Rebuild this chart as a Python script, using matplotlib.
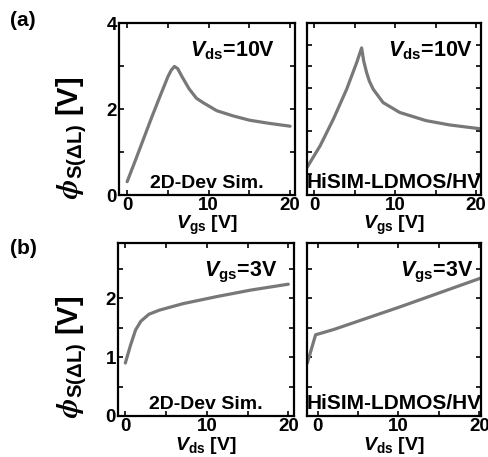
import matplotlib
matplotlib.use("Agg")
import matplotlib.pyplot as plt
from matplotlib.ticker import MultipleLocator

plt.rcParams['font.family'] = ['Liberation Sans', 'DejaVu Sans']
plt.rcParams['font.weight'] = 'bold'
plt.rcParams['mathtext.fontset'] = 'custom'
plt.rcParams['mathtext.rm'] = 'Liberation Sans:bold'
plt.rcParams['mathtext.bf'] = 'Liberation Sans:bold'
plt.rcParams['mathtext.it'] = 'Liberation Sans:italic:bold'
plt.rcParams['mathtext.sf'] = 'Liberation Sans'
plt.rcParams['mathtext.tt'] = 'STIXGeneral:italic'
plt.rcParams['mathtext.fallback'] = 'stix'

# (a) Vds = 10 V, phi vs Vgs
sim_a_vgs = [0, 1, 2, 3, 4, 5, 5.4, 5.8, 6.2, 6.8, 7.6, 8.5, 9.3, 11, 13, 15, 17.3, 20]
sim_a_phi = [0.31, 0.80, 1.30, 1.80, 2.28, 2.75, 2.90, 2.99, 2.94, 2.73, 2.47, 2.25, 2.15, 1.96, 1.84, 1.74, 1.67, 1.60]
hs_a_vgs = [-0.9, 0.74, 2.37, 4.0, 5.24, 5.85, 6.1, 6.46, 6.8, 7.28, 8.5, 10.55, 13.8, 16.7, 20.5]
hs_a_phi = [0.64, 1.15, 1.77, 2.46, 3.08, 3.42, 3.12, 2.85, 2.65, 2.46, 2.15, 1.92, 1.73, 1.63, 1.54]

# (b) Vgs = 3 V, phi vs Vds
sim_b_vds = [0, 0.63, 1.25, 1.9, 2.9, 4.2, 7.1, 11.25, 15.4, 20]
sim_b_phi = [0.90, 1.20, 1.46, 1.61, 1.73, 1.80, 1.91, 2.03, 2.14, 2.24]
hs_b_vds = [-1.26, -0.24, 2.0, 10.1, 20.1]
hs_b_phi = [0.90, 1.38, 1.47, 1.85, 2.34]

line_color = '#787878'
W, H = 489, 457
fig = plt.figure(figsize=(W / 100, H / 100), dpi=100)

def ax_at(x0, y0, x1, y1):
    return fig.add_axes([x0 / W, 1 - y1 / H, (x1 - x0) / W, (y1 - y0) / H])

axes = [
    ax_at(119, 23, 295, 195),
    ax_at(307, 23, 481, 195),
    ax_at(118, 243, 294, 416),
    ax_at(307, 243, 481, 416),
]

data = [(sim_a_vgs, sim_a_phi), (hs_a_vgs, hs_a_phi), (sim_b_vds, sim_b_phi), (hs_b_vds, hs_b_phi)]
xlims = [(-1.0, 20.6), (-0.9, 20.6), (-0.9, 20.7), (-1.3, 20.2)]
ylims = [(0, 4), (0, 4), (0, 2.94), (0, 2.94)]
names = ['2D-Dev Sim.', 'HiSIM-LDMOS/HV', '2D-Dev Sim.', 'HiSIM-LDMOS/HV']
name_sizes = [14, 15, 14, 15]
conds = [r'$V_{\mathrm{ds}}$=10V', r'$V_{\mathrm{ds}}$=10V', r'$V_{\mathrm{gs}}$=3V', r'$V_{\mathrm{gs}}$=3V']
cond_x = [0.886, 0.954, 0.903, 0.954]
xlabels = [r'$V_{\mathrm{gs}}$ [V]', r'$V_{\mathrm{gs}}$ [V]', r'$V_{\mathrm{ds}}$ [V]', r'$V_{\mathrm{ds}}$ [V]']

for i, ax in enumerate(axes):
    x, y = data[i]
    ax.plot(x, y, color=line_color, lw=2.3, solid_capstyle='round')
    ax.set_xlim(*xlims[i])
    ax.set_ylim(*ylims[i])
    ax.xaxis.set_major_locator(MultipleLocator(10))
    ax.xaxis.set_minor_locator(MultipleLocator(5))
    if i == 0:
        ax.yaxis.set_major_locator(MultipleLocator(2))
        ax.yaxis.set_minor_locator(MultipleLocator(1))
    elif i == 2:
        ax.yaxis.set_major_locator(MultipleLocator(1))
        ax.yaxis.set_minor_locator(MultipleLocator(0.5))
    else:
        ax.yaxis.set_major_locator(MultipleLocator(0.5))
        ax.yaxis.set_minor_locator(MultipleLocator(0.5))
        ax.set_yticklabels([])
    ax.tick_params(which='both', direction='in', top=True, right=True,
                   labelsize=13.5, width=1.2, pad=1.5, length=3.5)
    for lab in ax.get_xticklabels() + ax.get_yticklabels():
        lab.set_fontweight('bold')
    for s in ax.spines.values():
        s.set_linewidth(1.6)
    ax.text(cond_x[i], 0.905, conds[i], transform=ax.transAxes, ha='right', va='top',
            fontsize=15.5, fontweight='bold')
    ax.text(0.5, 0.02, names[i], transform=ax.transAxes, ha='center', va='bottom',
            fontsize=name_sizes[i], fontweight='bold')
    ax.set_xlabel(xlabels[i], fontsize=14, fontweight='bold', labelpad=0)

ylab = r'$\mathtt{\phi}_{\mathsf{S(\Delta L)}}$ [V]'
fig.text(72 / W, 1 - 138 / H, ylab, rotation=90, ha='center', va='center',
         fontsize=21, fontweight='bold')
fig.text(72 / W, 1 - 357 / H, ylab, rotation=90, ha='center', va='center',
         fontsize=21, fontweight='bold')
fig.text(10 / W, 1 - 20 / H, '(a)', ha='left', va='center', fontsize=15, fontweight='bold')
fig.text(10 / W, 1 - 248 / H, '(b)', ha='left', va='center', fontsize=15, fontweight='bold')

fig.savefig('out.png', dpi=100)
